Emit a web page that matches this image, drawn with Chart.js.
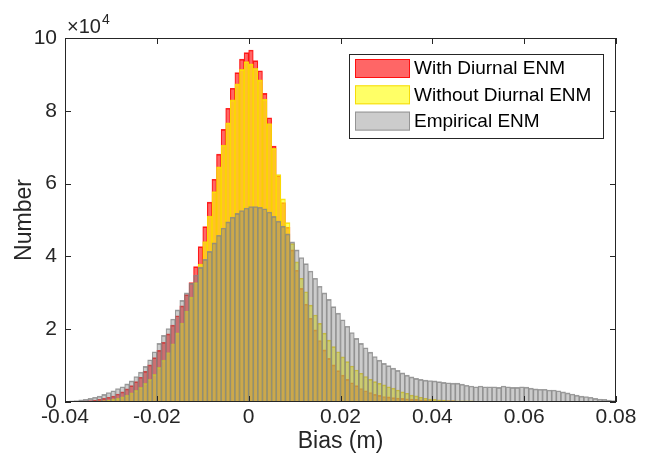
<!DOCTYPE html>
<html>
<head>
<meta charset="utf-8">
<script src="https://cdn.jsdelivr.net/npm/chart.js@4.4.0/dist/chart.umd.min.js"></script>
<style>
  html, body { margin: 0; padding: 0; background: #fff; }
  #wrap { width: 650px; height: 468px; }
</style>
</head>
<body>
<div id="wrap"><canvas id="chart" width="650" height="468"></canvas></div>
<script>
// histogram of bias, bins of 1 mm from -0.04 to 0.08 m; counts in units of 10^4
var BIN_START = -0.04;
var BIN_WIDTH = 0.001;

var seriesNames = ['With Diurnal ENM', 'Without Diurnal ENM', 'Empirical ENM'];

var withDiurnal = [
  0.01, 0.01, 0.02, 0.02, 0.03, 0.04, 0.05, 0.07, 0.10, 0.13,
  0.16, 0.22, 0.28, 0.36, 0.45, 0.56, 0.68, 0.84, 1.02, 1.22,
  1.42, 1.64, 1.87, 2.11, 2.37, 2.64, 2.95, 3.28, 3.72, 4.27,
  4.82, 5.49, 6.12, 6.81, 7.49, 8.07, 8.62, 9.05, 9.42, 9.60,
  9.67, 9.38, 9.10, 8.48, 7.81, 7.03, 6.22, 5.48, 4.80, 4.18,
  3.62, 3.12, 2.69, 2.30, 1.98, 1.69, 1.43, 1.20, 1.02, 0.86,
  0.74, 0.62, 0.53, 0.45, 0.37, 0.31, 0.26, 0.21, 0.18, 0.15,
  0.14, 0.12, 0.11, 0.10, 0.09, 0.08, 0.07, 0.06, 0.05, 0.05,
  0.04, 0.04, 0.03, 0.03, 0.03, 0.02, 0.02, 0.02, 0.02, 0.02,
  0.02, 0.02, 0.02, 0.01, 0.01, 0.01, 0.01, 0.01, 0.01, 0.01,
  0.01, 0.01, 0.01, 0.01, 0.01, 0.01, 0.01, 0.01, 0.01, 0.01,
  0.01, 0.01, 0.01, 0.01, 0.01, 0.01, 0.01, 0.01, 0.01, 0.01
];

var withoutDiurnal = [
  0.00, 0.005, 0.01, 0.01, 0.015, 0.02, 0.02, 0.03, 0.04, 0.05,
  0.08, 0.10, 0.14, 0.19, 0.25, 0.32, 0.40, 0.51, 0.62, 0.76,
  0.95, 1.15, 1.36, 1.60, 1.90, 2.17, 2.50, 2.88, 3.28, 3.79,
  4.41, 5.11, 5.78, 6.46, 7.06, 7.67, 8.30, 8.74, 9.14, 9.35,
  9.29, 9.17, 8.85, 8.32, 7.65, 6.97, 6.25, 5.58, 4.93, 4.35,
  3.85, 3.40, 3.03, 2.66, 2.39, 2.16, 1.89, 1.70, 1.52, 1.38,
  1.24, 1.11, 0.99, 0.88, 0.79, 0.70, 0.62, 0.56, 0.51, 0.47,
  0.42, 0.38, 0.33, 0.28, 0.24, 0.19, 0.17, 0.13, 0.10, 0.08,
  0.07, 0.06, 0.05, 0.04, 0.04, 0.03, 0.03, 0.03, 0.03, 0.02,
  0.02, 0.02, 0.02, 0.02, 0.02, 0.02, 0.02, 0.02, 0.02, 0.02,
  0.01, 0.01, 0.01, 0.01, 0.01, 0.01, 0.01, 0.01, 0.01, 0.01,
  0.01, 0.01, 0.01, 0.01, 0.01, 0.01, 0.01, 0.01, 0.005, 0.005
];

var empirical = [
  0.02, 0.03, 0.04, 0.06, 0.07, 0.10, 0.13, 0.16, 0.21, 0.26,
  0.31, 0.37, 0.42, 0.50, 0.58, 0.70, 0.82, 0.98, 1.16, 1.38,
  1.61, 1.83, 2.02, 2.28, 2.53, 2.79, 3.00, 3.26, 3.49, 3.70,
  3.92, 4.14, 4.37, 4.58, 4.78, 4.95, 5.08, 5.18, 5.26, 5.33,
  5.37, 5.37, 5.35, 5.31, 5.22, 5.10, 4.97, 4.83, 4.62, 4.40,
  4.18, 3.97, 3.80, 3.60, 3.40, 3.18, 3.00, 2.82, 2.62, 2.44,
  2.26, 2.08, 1.91, 1.75, 1.61, 1.49, 1.37, 1.25, 1.15, 1.06,
  1.00, 0.93, 0.87, 0.80, 0.74, 0.69, 0.65, 0.62, 0.60, 0.59,
  0.58, 0.56, 0.54, 0.53, 0.52, 0.52, 0.49, 0.46, 0.44, 0.42,
  0.44, 0.42, 0.42, 0.42, 0.40, 0.44, 0.42, 0.40, 0.40, 0.42,
  0.41, 0.38, 0.36, 0.35, 0.35, 0.33, 0.33, 0.31, 0.28, 0.25,
  0.22, 0.19, 0.16, 0.15, 0.13, 0.10, 0.08, 0.07, 0.05, 0.04
];

var xTickValues = [-0.04, -0.02, 0, 0.02, 0.04, 0.06, 0.08];
var xTickLabels = ['-0.04', '-0.02', '0', '0.02', '0.04', '0.06', '0.08'];
var yTickValues = [0, 2, 4, 6, 8, 10];
var yTickLabels = ['0', '2', '4', '6', '8', '10'];

var FONT = 'Arial, "Liberation Sans", Helvetica, sans-serif';
var INK = '#262626';
var fills = ['rgba(255,0,0,0.6)', 'rgba(255,255,0,0.6)', 'rgba(128,128,128,0.4)'];
var edges = ['rgba(255,0,0,0.85)', 'rgba(245,215,0,0.9)', 'rgba(135,135,135,0.8)'];

var binCenters = withDiurnal.map(function(_, i) {
  return +(BIN_START + (i + 0.5) * BIN_WIDTH).toFixed(4);
});

function toPoints(vals) {
  return vals.map(function(v, i) { return { x: binCenters[i], y: v }; });
}

function makeSet(i, vals) {
  return {
    label: seriesNames[i],
    data: toPoints(vals),
    backgroundColor: fills[i],
    borderColor: edges[i],
    borderWidth: { top: 1, left: 0.5, right: 0.5, bottom: 0 },
    borderSkipped: false,
    categoryPercentage: 1,
    barPercentage: 1,
    grouped: false,
    order: 3 - i // red underneath, grey on top
  };
}

// box, inward ticks, exponent label and legend in the top right corner
var framePlugin = {
  id: 'frame',
  afterDraw: function(chart) {
    var ctx = chart.ctx;
    var a = chart.chartArea;
    var xs = chart.scales.x;
    var ys = chart.scales.y;
    var tl = 6;
    ctx.save();
    ctx.strokeStyle = INK;
    ctx.lineWidth = 1;
    ctx.strokeRect(a.left + 0.5, a.top + 0.5, a.right - a.left - 1, a.bottom - a.top - 1);
    ctx.beginPath();
    xTickValues.forEach(function(v) {
      var px = Math.round(xs.getPixelForValue(v)) + 0.5;
      ctx.moveTo(px, a.bottom); ctx.lineTo(px, a.bottom - tl);
      ctx.moveTo(px, a.top); ctx.lineTo(px, a.top + tl);
    });
    yTickValues.forEach(function(v) {
      var py = Math.round(ys.getPixelForValue(v)) + 0.5;
      ctx.moveTo(a.left, py); ctx.lineTo(a.left + tl, py);
      ctx.moveTo(a.right, py); ctx.lineTo(a.right - tl, py);
    });
    ctx.stroke();

    // x10^4 multiplier
    ctx.fillStyle = INK;
    ctx.textAlign = 'left';
    ctx.textBaseline = 'alphabetic';
    ctx.font = '20px ' + FONT;
    ctx.fillText('\u00d710', a.left + 2, a.top - 5);
    var w = ctx.measureText('\u00d710').width;
    ctx.font = '14px ' + FONT;
    ctx.fillText('4', a.left + 3 + w, a.top - 14);

    // legend
    var lx = 349, ly = 54, lw = 254, lh = 84;
    ctx.fillStyle = '#fff';
    ctx.fillRect(lx, ly, lw, lh);
    ctx.strokeStyle = INK;
    ctx.strokeRect(lx + 0.5, ly + 0.5, lw, lh);
    ctx.font = '19px ' + FONT;
    ctx.textBaseline = 'middle';
    seriesNames.forEach(function(name, i) {
      var sy = ly + 5 + i * 26.3;
      ctx.fillStyle = fills[i];
      ctx.fillRect(lx + 6, sy, 55, 19);
      ctx.strokeStyle = edges[i];
      ctx.strokeRect(lx + 6.5, sy + 0.5, 54, 18);
      ctx.fillStyle = '#000';
      ctx.fillText(name, lx + 65, sy + 10);
    });
    ctx.restore();
  }
};

new Chart(document.getElementById('chart'), {
  type: 'bar',
  data: {
    datasets: [
      makeSet(0, withDiurnal),
      makeSet(1, withoutDiurnal),
      makeSet(2, empirical)
    ]
  },
  options: {
    responsive: false,
    animation: false,
    layout: { padding: { top: 38, right: 34, left: 0, bottom: 0 } },
    plugins: {
      legend: { display: false },
      tooltip: { enabled: false }
    },
    scales: {
      x: {
        type: 'linear',
        min: -0.04,
        max: 0.08,
        offset: false,
        grid: { display: false, drawTicks: false },
        border: { display: false },
        afterFit: function(s) { s.height = 66; },
        afterBuildTicks: function(s) {
          s.ticks = xTickValues.map(function(v) { return { value: v }; });
        },
        ticks: {
          color: INK,
          padding: 3,
          maxRotation: 0,
          font: { family: FONT, size: 21 },
          callback: function(v, i) { return xTickLabels[i]; }
        },
        title: {
          display: true,
          text: 'Bias (m)',
          color: INK,
          font: { family: FONT, size: 23 },
          padding: { top: 0, bottom: 13 }
        }
      },
      y: {
        min: 0,
        max: 10,
        grid: { display: false, drawTicks: false },
        border: { display: false },
        afterFit: function(s) { s.width = 65; },
        afterBuildTicks: function(s) {
          s.ticks = yTickValues.map(function(v) { return { value: v }; });
        },
        ticks: {
          color: INK,
          padding: 8,
          font: { family: FONT, size: 21 },
          callback: function(v, i) { return yTickLabels[i]; }
        },
        title: {
          display: true,
          text: 'Number',
          color: INK,
          font: { family: FONT, size: 23 },
          padding: { top: 11, bottom: 0 }
        }
      }
    }
  },
  plugins: [framePlugin]
});
</script>
</body>
</html>
